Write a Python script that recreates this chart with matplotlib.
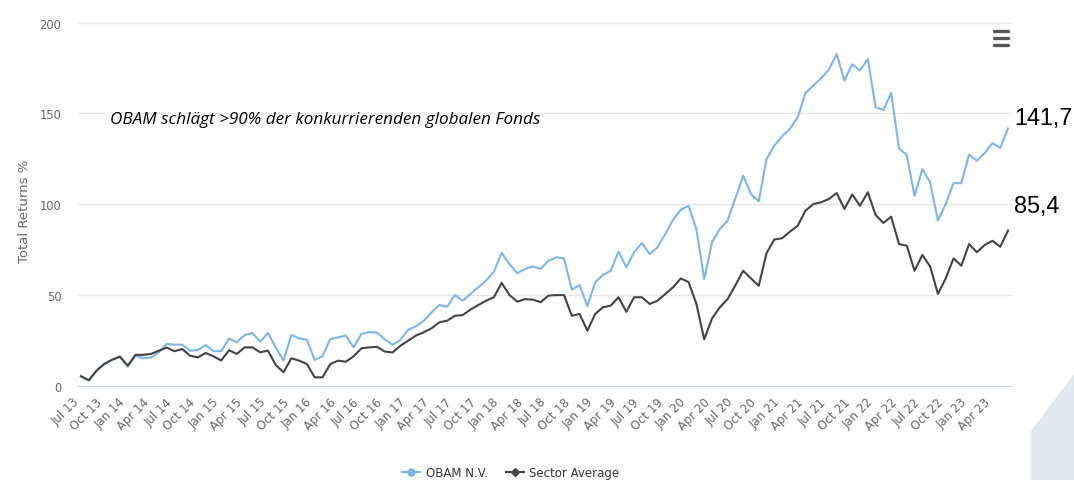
import matplotlib
matplotlib.use('Agg')
import matplotlib.pyplot as plt
from matplotlib.lines import Line2D
from matplotlib.patches import Polygon
from matplotlib.transforms import ScaledTranslation

# monthly total returns in %, Jul 2013 - Jun 2023
obam = [5.2, 3.0, 8.3, 12.0, 14.3, 16.0, 10.5, 16.5, 15.1, 15.5,
        18.4, 23.0, 22.6, 22.6, 19.3, 19.6, 22.4, 19.0, 19.0, 26.0,
        23.9, 27.9, 29.0, 24.2, 29.0, 21.0, 13.8, 27.9, 26.1, 25.3,
        14.2, 16.2, 25.7, 26.6, 27.6, 21.1, 28.5, 29.5, 29.2, 25.5,
        22.5, 25.2, 30.8, 32.7, 35.8, 40.4, 44.4, 43.5, 49.9, 46.8,
        50.5, 54.2, 57.9, 62.8, 73.1, 67.0, 61.9, 64.3, 65.7, 64.3,
        68.8, 70.7, 70.1, 52.9, 55.4, 43.7, 56.9, 61.0, 63.3, 73.8,
        65.2, 73.5, 78.6, 72.5, 76.2, 83.5, 91.4, 96.9, 99.1, 86.0,
        58.8, 79.0, 86.3, 90.9, 103.2, 115.7, 105.6, 101.5, 124.8, 132.2,
        137.3, 141.4, 147.8, 161.2, 165.2, 169.3, 174.0, 182.7, 168.0, 177.0,
        173.5, 179.9, 153.3, 151.8, 161.2, 130.7, 127.0, 104.6, 119.3, 112.0,
        90.9, 100.0, 111.5, 111.5, 127.2, 123.9, 128.1, 133.6, 130.9, 141.7]

sector = [5.2, 3.0, 8.3, 12.0, 14.3, 16.0, 11.0, 17.0, 17.0, 17.5,
          19.3, 21.0, 19.0, 20.2, 16.5, 15.6, 18.0, 16.2, 13.9, 19.5,
          17.5, 21.1, 21.1, 18.4, 19.3, 11.4, 7.4, 15.1, 13.8, 11.9,
          4.6, 4.6, 11.9, 13.8, 13.2, 16.2, 20.6, 21.1, 21.4, 18.8,
          18.3, 22.0, 24.8, 27.6, 29.4, 31.6, 34.9, 35.8, 38.5, 38.9,
          41.9, 44.4, 46.8, 48.7, 56.6, 49.9, 46.3, 47.7, 47.4, 46.0,
          49.6, 49.9, 49.9, 38.5, 39.5, 30.3, 39.5, 43.2, 44.1, 48.7,
          40.7, 48.7, 48.7, 45.0, 46.8, 50.5, 54.2, 59.1, 57.0, 45.0,
          25.5, 37.0, 43.1, 47.7, 55.3, 63.3, 59.1, 55.0, 73.0, 80.5,
          81.2, 84.8, 88.1, 96.4, 100.0, 101.0, 102.8, 106.1, 97.3, 105.3,
          99.1, 106.5, 94.0, 89.6, 93.1, 78.0, 77.1, 63.3, 72.0, 65.7,
          50.5, 59.1, 70.1, 66.1, 78.0, 73.5, 77.5, 79.8, 76.5, 85.4]

tick_labels = ['Jul 13', 'Oct 13', 'Jan 14', 'Apr 14', 'Jul 14', 'Oct 14',
               'Jan 15', 'Apr 15', 'Jul 15', 'Oct 15', 'Jan 16', 'Apr 16',
               'Jul 16', 'Oct 16', 'Jan 17', 'Apr 17', 'Jul 17', 'Oct 17',
               'Jan 18', 'Apr 18', 'Jul 18', 'Oct 18', 'Jan 19', 'Apr 19',
               'Jul 19', 'Oct 19', 'Jan 20', 'Apr 20', 'Jul 20', 'Oct 20',
               'Jan 21', 'Apr 21', 'Jul 21', 'Oct 21', 'Jan 22', 'Apr 22',
               'Jul 22', 'Oct 22', 'Jan 23', 'Apr 23']

series_names = ['OBAM N.V.', 'Sector Average']
end_labels = ['141,7', '85,4']

blue = '#7cb5ec'
dark = '#434348'
grey = '#666666'

W, H = 1074, 481
fig = plt.figure(figsize=(W / 100, H / 100), dpi=100)
ax = fig.add_axes([78 / W, 94.3 / H, 933.7 / W, 363.2 / H])

x = list(range(len(obam)))
ax.plot(x, obam, color=blue, lw=1.5, zorder=3)
ax.plot(x, sector, color=dark, lw=1.5, zorder=4)

ax.set_xlim(-0.385, 119.47)
ax.set_ylim(0, 200)
ax.set_yticks([0, 50, 100, 150, 200])
ax.grid(axis='y', color='#e6e6e6', lw=1)
ax.set_axisbelow(True)
for s in ['top', 'right', 'left']:
    ax.spines[s].set_visible(False)
ax.spines['bottom'].set_color('#ccd6eb')
ax.tick_params(axis='y', length=0, pad=12, labelsize=8.3, labelcolor=grey)

ax.set_xticks(range(0, len(obam), 3))
ax.set_xticklabels(tick_labels, rotation=45, ha='right', va='center',
                   rotation_mode='anchor')
ax.tick_params(axis='x', length=0, pad=10, labelsize=8.5, labelcolor=grey)
for lab in ax.get_xticklabels():
    lab.set_transform(lab.get_transform() + ScaledTranslation(-3 / 72, 0, fig.dpi_scale_trans))

fig.text(25 / W, 1 - 211 / H, 'Total Returns %', rotation=90, ha='center',
         va='center', fontsize=9.5, color=grey)

# end values
ax.annotate(end_labels[0], xy=(x[-1], obam[-1]), xytext=(6, 11),
            textcoords='offset pixels', ha='left', va='center',
            fontsize=16.8, family='Liberation Sans', color='black',
            annotation_clip=False)
ax.annotate(end_labels[1], xy=(x[-1], sector[-1]), xytext=(6, 25),
            textcoords='offset pixels', ha='left', va='center',
            fontsize=16.8, family='Liberation Sans', color='black',
            annotation_clip=False)

fig.text(110 / W, 1 - 120 / H, 'OBAM schlägt >90% der konkurrierenden globalen Fonds',
         ha='left', va='center', fontsize=12.3, style='italic',
         family='Open Sans', color='black')

# legend
handles = [Line2D([], [], color=blue, marker='o', markersize=5, lw=1.5),
           Line2D([], [], color=dark, marker='D', markersize=4.5, lw=1.5)]
leg = fig.legend(handles, series_names, loc='center',
                 bbox_to_anchor=(511 / W, 1 - 474 / H), ncol=2, frameon=False,
                 fontsize=8.5, handlelength=1.5, columnspacing=1.5,
                 handletextpad=0.5)
for t in leg.get_texts():
    t.set_color('#333333')

# menu icon
for yy in [32.3, 39, 45.7]:
    fig.add_artist(Line2D([994 / W, 1008 / W], [1 - yy / H, 1 - yy / H],
                          color='#555555', lw=2.4, solid_capstyle='round'))

# decorative shape bottom right
fig.add_artist(Polygon([(1031 / W, 0), (1031 / W, 1 - 432 / H),
                        (1074 / W, 1 - 375 / H), (1, 0)],
                       closed=True, transform=fig.transFigure,
                       facecolor='#dfe9ef', edgecolor='none'))

fig.savefig('out.png', dpi=100)
